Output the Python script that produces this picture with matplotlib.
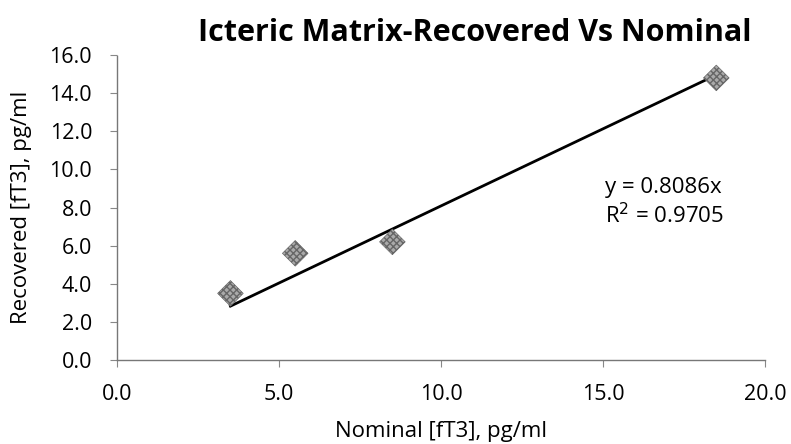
import numpy as np
import matplotlib.pyplot as plt

# Data
nominal = [3.5, 5.5, 8.5, 18.5]
recovered = [3.5, 5.6, 6.2, 14.8]
slope = 0.8086
r2 = 0.9705
x_ticks = [0.0, 5.0, 10.0, 15.0, 20.0]
y_ticks = [0.0, 2.0, 4.0, 6.0, 8.0, 10.0, 12.0, 14.0, 16.0]

plt.rcParams['font.family'] = ['Open Sans', 'DejaVu Sans']
plt.rcParams['hatch.color'] = '#222222'
plt.rcParams['hatch.linewidth'] = 1.0

fig = plt.figure(figsize=(7.91, 4.44), dpi=100)
ax = fig.add_axes([0.148, 0.189, 0.819, 0.687])

# trend line through origin, drawn over the data range
xs = np.array([min(nominal), max(nominal)])
ax.plot(xs, slope * xs, color='black', linewidth=2, zorder=2)

ax.scatter(nominal, recovered, marker='D', s=170, facecolor='#aaaaaa',
           edgecolor='#666666', linewidth=0.5, hatch='xxxxx', zorder=3)

ax.set_xlim(0, 20)
ax.set_ylim(0, 16)
ax.set_xticks(x_ticks)
ax.set_yticks(y_ticks)
ax.set_xticklabels([f'{v:.1f}' for v in x_ticks])
ax.set_yticklabels([f'{v:.1f}' for v in y_ticks])
ax.tick_params(labelsize=15.5, color='#888888', length=5, width=0.8)
ax.tick_params(axis='y', pad=13)
ax.tick_params(axis='x', pad=12)

for side in ['top', 'right']:
    ax.spines[side].set_visible(False)
for side in ['left', 'bottom']:
    ax.spines[side].set_color('#777777')
    ax.spines[side].set_linestyle((0, (1, 1)))
    ax.spines[side].set_linewidth(1.0)

ax.set_xlabel('Nominal [fT3], pg/ml', fontsize=16, va='center')
ax.xaxis.set_label_coords(0.5, -0.235)
ax.set_ylabel('Recovered [fT3], pg/ml', fontsize=16, va='center')
ax.yaxis.set_label_coords(-0.147, 0.5)

fig.text(0.6, 1 - 33 / 444, 'Icteric Matrix-Recovered Vs Nominal',
         fontsize=22, fontweight='bold', ha='center', va='center')

ax.text(0.753, 0.567, f'y = {slope}x', transform=ax.transAxes,
        fontsize=16, va='center', ha='left')
ax.text(0.753, 0.475, f'R$^2$ = {r2}', transform=ax.transAxes,
        fontsize=16, va='center', ha='left')

fig.savefig('out.png', dpi=100)
